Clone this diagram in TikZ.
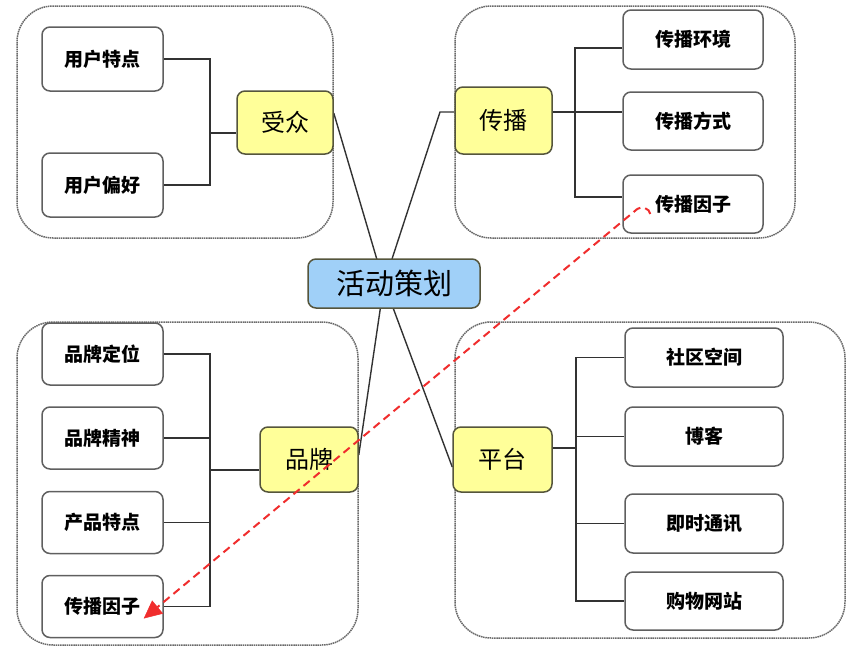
\documentclass[tikz,border=0pt]{standalone}
\usepackage{fontspec}
\newfontfamily\cjk{Noto Sans CJK SC}
\usetikzlibrary{arrows.meta,backgrounds}
\definecolor{catfill}{RGB}{255,255,153}
\definecolor{catdraw}{RGB}{85,85,60}
\definecolor{mainfill}{RGB}{160,208,248}
\definecolor{leafdraw}{RGB}{95,95,95}
\definecolor{grpdraw}{RGB}{105,105,105}
\definecolor{connc}{RGB}{50,50,50}
\definecolor{redc}{RGB}{240,45,45}
\begin{document}
\begin{tikzpicture}[x=1pt,y=-1pt,
  grp/.style={draw=grpdraw, line width=1.5pt, dash pattern=on 1.5pt off 0.7pt, rounded corners=36pt},
  leaf/.style={draw=leafdraw, line width=1.5pt, fill=white, rounded corners=8pt, inner sep=0pt,
    font=\cjk\bfseries\fontsize{19pt}{19pt}\selectfont},
  cat/.style={draw=catdraw, line width=1.5pt, fill=catfill, rounded corners=8pt, inner sep=0pt,
    font=\cjk\fontsize{24pt}{24pt}\selectfont},
  mainbox/.style={draw=catdraw, line width=1.5pt, fill=mainfill, rounded corners=8pt, inner sep=0pt,
    font=\cjk\fontsize{29pt}{29pt}\selectfont},
  conn/.style={draw=connc, line width=1.4pt},
  redline/.style={draw=redc, line width=2pt, dash pattern=on 8pt off 5pt}]
\useasboundingbox (0,0) rectangle (859,648);

% center
\node[mainbox, minimum width=172, minimum height=49] (m) at (394,283.5) {活动策划};

% top-left group
\node[leaf, minimum width=121, minimum height=64] (u1) at (102.5,59) {用户特点};
\node[leaf, minimum width=121, minimum height=64] (u2) at (102.5,185) {用户偏好};
\node[cat, minimum width=96, minimum height=63] (c1) at (285,122.5) {受众};

% top-right group
\node[cat, minimum width=97, minimum height=67] (c2) at (503.5,120.5) {传播};
\node[leaf, minimum width=140, minimum height=59] (p1) at (693,39.5) {传播环境};
\node[leaf, minimum width=140, minimum height=58] (p2) at (693,121) {传播方式};
\node[leaf, minimum width=140, minimum height=58] (p3) at (693,204) {传播因子};

% bottom-left group
\node[leaf, minimum width=121, minimum height=62] (b1) at (102.5,354) {品牌定位};
\node[leaf, minimum width=121, minimum height=62] (b2) at (102.5,438) {品牌精神};
\node[leaf, minimum width=121, minimum height=62] (b3) at (102.5,522.5) {产品特点};
\node[leaf, minimum width=121, minimum height=62] (b4) at (102.5,606.5) {传播因子};
\node[cat, minimum width=98, minimum height=65] (c3) at (309,459.5) {品牌};

% bottom-right group
\node[cat, minimum width=99, minimum height=65] (c4) at (502.5,459.5) {平台};
\node[leaf, minimum width=158, minimum height=59] (q1) at (704,357.5) {社区空间};
\node[leaf, minimum width=158, minimum height=59] (q2) at (704,436.5) {博客};
\node[leaf, minimum width=158, minimum height=59] (q3) at (704,523.5) {即时通讯};
\node[leaf, minimum width=158, minimum height=58] (q4) at (704,601) {购物网站};

\begin{scope}[on background layer]
  % group frames
  \draw[grp] (17,6) rectangle (333,238);
  \draw[grp] (455,6) rectangle (795,238);
  \draw[grp] (17,322) rectangle (358,645);
  \draw[grp] (455,322) rectangle (845,638);

  % hub lines
  \coordinate (hub) at ([xshift=-10pt]m.center);
  \coordinate (t2) at (440,112);
  \draw[conn] ([yshift=9.5pt]c1.east) -- (hub);
  \draw[conn] (hub) -- (t2) -- (t2 -| c2.west);
  \draw[conn] ([yshift=4.5pt]c3.east) -- (hub);
  \draw[conn] (hub) -- ([yshift=-7.5pt]c4.west);

  % top-left bracket
  \coordinate (k1) at (210,133);
  \draw[conn] (u1.east) -| (k1) |- (u2.east);
  \draw[conn] (k1) -- (k1 -| c1.west);

  % top-right bracket
  \coordinate (k2) at (575,112);
  \draw[conn] ([yshift=-8.5pt]p1.west) -| (k2) |- ([yshift=7pt]p3.west);
  \draw[conn] (k2 -| c2.east) -- (k2 -| p2.west);

  % bottom-left bracket
  \coordinate (k3) at (210,470);
  \draw[conn] (b1.east) -| (k3) |- (b4.east);
  \draw[conn] (b2.east) -- (b2.east -| k3);
  \draw[conn] (b3.east) -- (b3.east -| k3);
  \draw[conn] (k3) -- (k3 -| c3.west);

  % bottom-right bracket
  \coordinate (k4) at (576,448);
  \draw[conn] (q1.west) -| (k4) |- (q4.west);
  \draw[conn] (q2.west) -- (q2.west -| k4);
  \draw[conn] (q3.west) -- (q3.west -| k4);
  \draw[conn] (k4) -- (k4 -| c4.east);
\end{scope}

% red dashed link
\coordinate (rs) at ([xshift=28pt,yshift=-10pt]p3.west);
\coordinate (r2) at ([xshift=15pt,yshift=-5pt]p3.west);
\coordinate (re) at ([xshift=-20pt,yshift=-12pt]b4.east);
\draw[redline, -{Triangle[length=18pt,width=17pt,fill=redc,line width=0.5pt]}] (rs) to[out=95,in=40] (r2) -- (re);
\end{tikzpicture}
\end{document}
